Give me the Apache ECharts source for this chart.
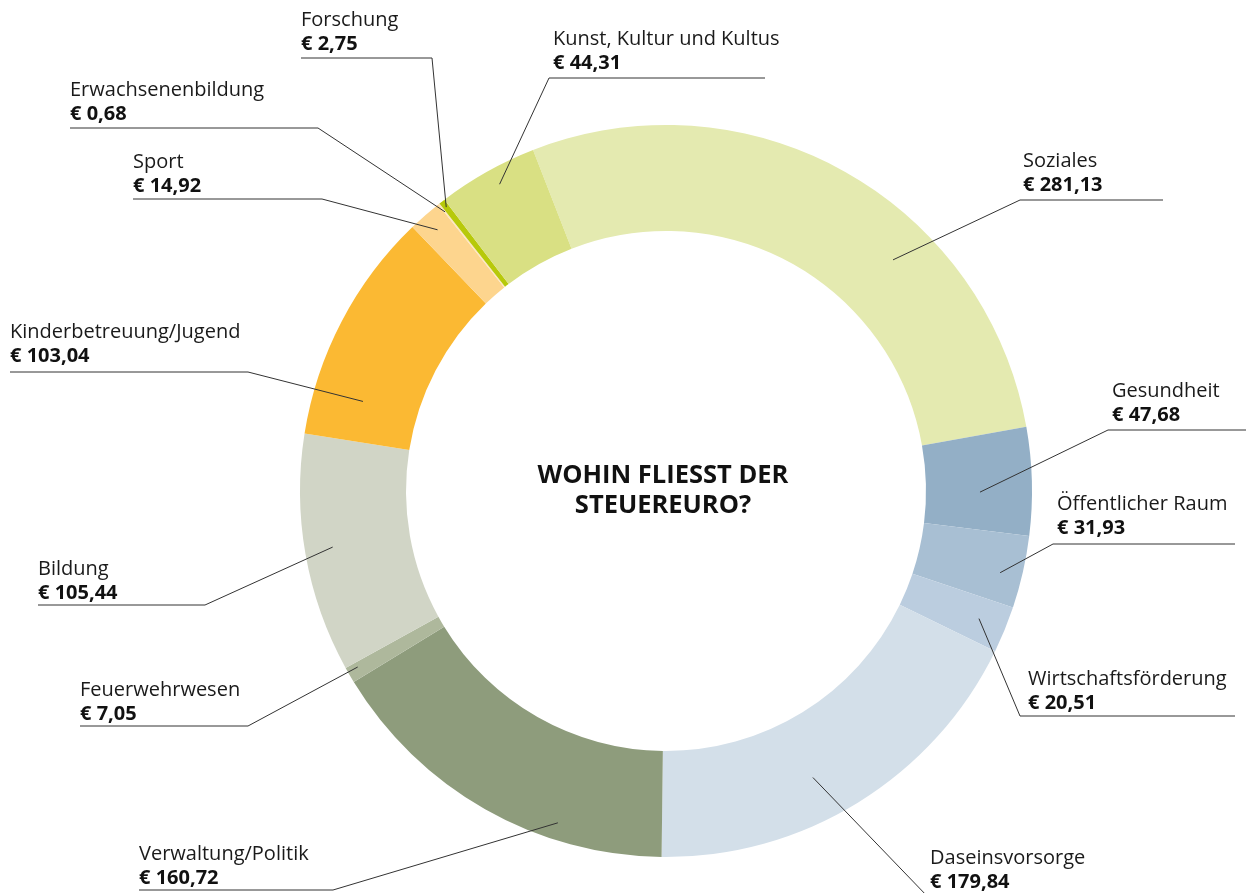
<!DOCTYPE html>
<html><head><meta charset="utf-8">
<script src="https://cdn.jsdelivr.net/npm/echarts@6/dist/echarts.min.js"></script>
<style>html,body{margin:0;padding:0;background:#fff}#chart{width:1246px;height:893px}</style>
</head><body><div id="chart"></div>
<script>
// ---- data ----
const categories = ['Soziales','Gesundheit','Öffentlicher Raum','Wirtschaftsförderung','Daseinsvorsorge','Verwaltung/Politik','Feuerwehrwesen','Bildung','Kinderbetreuung/Jugend','Sport','Erwachsenenbildung','Forschung','Kunst, Kultur und Kultus'];
const values = [281.13, 47.68, 31.93, 20.51, 179.84, 160.72, 7.05, 105.44, 103.04, 14.92, 0.68, 2.75, 44.31];
const centerTitle = 'WOHIN FLIESST DER\nSTEUEREURO?';

// ---- styles ----
const colors = ['#e4eab0','#93afc6','#a8bfd3','#bbcddf','#d3dfe9','#8e9c7c','#aeb89c','#d1d5c6','#fbb933','#fdd58e','#fde6c0','#b7c90a','#d9e083'];
const FONT = '"Open Sans", Lato, sans-serif';
const CX = 666, CY = 491, R_IN = 260, R_OUT = 366;
const START = -21.3; // degrees clockwise from 12 o'clock
// label layout: [textX, nameCenterY, underlineY, elbowX, endX, anchorFracInSlice, anchorRadius]
const labelCfg = [
  [1023,160,200,1020,1163,0.65,324],
  [1112,390,430,1108,1246,0.60,314],
  [1057,503,544,1053,1235,0.58,344],
  [1028,678,716,1020,1235,0.49,338],
  [930,857,897,928,1200,0.57,322],
  [139,853,890,333,139,0.30,349],
  [80,689,726,248,80,0.68,355],
  [38,568,605,205,38,0.51,338],
  [10,331,372,248,10,0.20,316],
  [133,161,199,322,133,0.50,347],
  [70,89,128,318,70,0.50,356],
  [301,19,58,432,301,0.50,359],
  [553,38,78,549,765,0.55,349]
];

const total = values.reduce((a,b)=>a+b,0);
let cum = 0;
const anchors = values.map((v,i) => {
  const th = (START + (cum + labelCfg[i][5]*v) / total * 360) * Math.PI / 180;
  cum += v;
  const r = labelCfg[i][6];
  return [CX + r*Math.sin(th), CY - r*Math.cos(th)];
});
const fmtVal = v => '€ ' + v.toFixed(2).replace('.', ',');

const common = {
  type: 'pie',
  center: [CX, CY],
  radius: [R_IN, R_OUT],
  startAngle: 90 - START,
  clockwise: true,
  avoidLabelOverlap: false,
  emphasis: { disabled: true },
  silent: true
};

const chart = echarts.init(document.getElementById('chart'), null, {renderer:'canvas'});
chart.setOption({
  animation: false,
  backgroundColor: '#fff',
  graphic: [{
    type: 'text', x: 663, y: 491, z: 10,
    style: { text: centerTitle, font: 'bold 25.5px ' + FONT, fill: '#111', align: 'center', verticalAlign: 'middle', lineHeight: 30 }
  }],
  series: [
    Object.assign({}, common, {
      z: 2,
      itemStyle: { borderWidth: 0 },
      data: categories.map((c,i) => ({ name: c, value: values[i], itemStyle: { color: colors[i] } })),
      label: { show: false },
      labelLine: { show: false }
    }),
    Object.assign({}, common, {
      z: 3,
      itemStyle: { color: 'rgba(0,0,0,0)', borderWidth: 0 },
      data: categories.map((c,i) => ({ name: c, value: values[i] })),
      label: {
        show: true,
        position: 'outside',
        formatter: p => '{n|' + p.name + '}\n{v|' + fmtVal(p.value) + '}',
        rich: {
          n: { fontFamily: FONT, fontSize: 20, color: '#1a1a1a', lineHeight: 24 },
          v: { fontFamily: FONT, fontSize: 20, fontWeight: 'bold', color: '#111', lineHeight: 24 }
        }
      },
      labelLine: { show: true, length: 10, length2: 10, lineStyle: { color: '#333', width: 1, opacity: 1 } },
      labelLayout: function (params) {
        const i = params.dataIndex;
        const c = labelCfg[i];
        return {
          x: c[0], y: c[1] - 11, align: 'left', verticalAlign: 'top',
          labelLinePoints: [anchors[i], [c[3], c[2]], [c[4], c[2]]]
        };
      }
    })
  ]
});
</script></body></html>
